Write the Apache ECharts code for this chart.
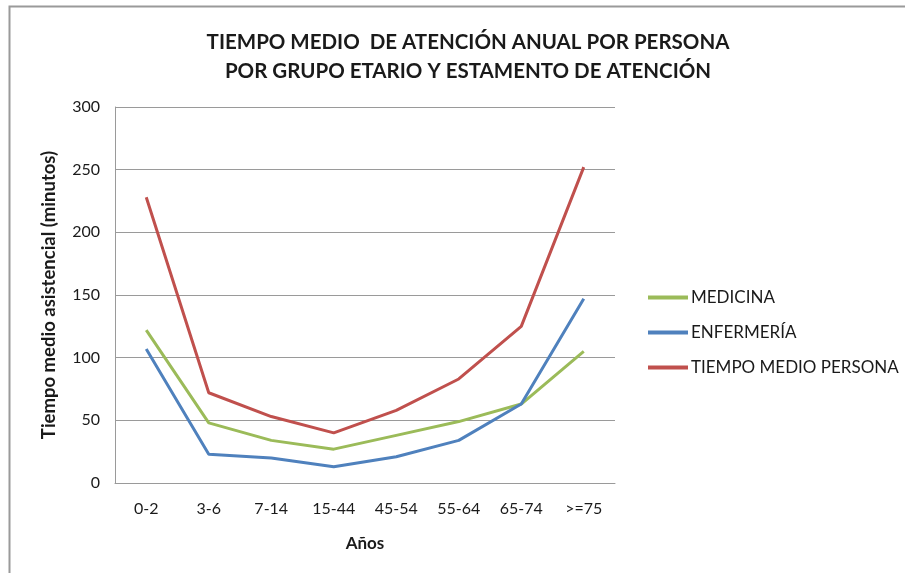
<!DOCTYPE html>
<html>
<head>
<meta charset="utf-8">
<script src="https://cdn.jsdelivr.net/npm/echarts@6/dist/echarts.min.js"></script>
<style>
  html, body { margin: 0; padding: 0; background: #ffffff; }
  #chart { width: 905px; height: 573px; }
</style>
</head>
<body>
<div id="chart"></div>
<script>
// Age groups (x axis)
const categories = ['0-2', '3-6', '7-14', '15-44', '45-54', '55-64', '65-74', '>=75'];

// Mean annual attention time per person, in minutes
const medicina = [122, 48, 34, 27, 38, 49, 63, 105];
const enfermeria = [107, 23, 20, 13, 21, 34, 63, 147];
const tiempoMedioPersona = [228, 72, 53, 40, 58, 83, 125, 252];

// Y axis range
const yMin = 0;
const yMax = 300;
const yStep = 50;

const FONT = 'Lato, "Open Sans", "Liberation Sans", sans-serif';

const chart = echarts.init(document.getElementById('chart'), null, { renderer: 'canvas' });

chart.setOption({
  backgroundColor: '#ffffff',
  animation: false,
  title: {
    text: 'TIEMPO MEDIO  DE ATENCIÓN ANUAL POR PERSONA\nPOR GRUPO ETARIO Y ESTAMENTO DE ATENCIÓN',
    left: 463,
    top: 23,
    textAlign: 'center',
    textStyle: {
      fontFamily: FONT,
      fontWeight: 'bold',
      fontSize: 20.5,
      lineHeight: 29,
      color: '#1a1a1a'
    }
  },
  graphic: [
    {
      type: 'rect',
      shape: { x: 9.5, y: 6.5, width: 1000, height: 700 },
      style: { fill: 'none', stroke: '#9a9a9a', lineWidth: 2 },
      silent: true
    }
  ],
  legend: {
    orient: 'vertical',
    left: 643,
    top: 284,
    itemWidth: 40,
    itemHeight: 4,
    itemGap: 18,
    icon: 'rect',
    textStyle: {
      fontFamily: FONT,
      fontSize: 17,
      color: '#1a1a1a',
      padding: [0, 0, 0, -2]
    },
    data: ['MEDICINA', 'ENFERMERÍA', 'TIEMPO MEDIO PERSONA']
  },
  grid: {
    left: 115,
    right: 290,
    top: 107,
    bottom: 90
  },
  xAxis: {
    type: 'category',
    data: categories,
    boundaryGap: true,
    name: 'Años',
    nameLocation: 'middle',
    nameGap: 52,
    nameTextStyle: {
      fontFamily: FONT,
      fontWeight: 'bold',
      fontSize: 17,
      color: '#1a1a1a'
    },
    axisLine: { show: true, lineStyle: { color: '#9a9a9a', width: 1 } },
    axisTick: { show: false },
    axisLabel: {
      fontFamily: FONT,
      fontSize: 16,
      color: '#1a1a1a',
      margin: 18
    }
  },
  yAxis: {
    type: 'value',
    min: yMin,
    max: yMax,
    interval: yStep,
    name: 'Tiempo medio asistencial (minutos)',
    nameLocation: 'middle',
    nameGap: 56,
    nameTextStyle: {
      fontFamily: FONT,
      fontWeight: 'bold',
      fontSize: 18.5,
      color: '#1a1a1a'
    },
    axisLine: { show: true, lineStyle: { color: '#9a9a9a', width: 1 } },
    axisTick: { show: false },
    splitLine: { show: true, lineStyle: { color: '#9a9a9a', width: 1 } },
    axisLabel: {
      fontFamily: FONT,
      fontSize: 16,
      color: '#1a1a1a',
      margin: 15
    }
  },
  series: [
    {
      name: 'MEDICINA',
      type: 'line',
      data: medicina,
      symbol: 'none',
      color: '#9bbb59',
      lineStyle: { width: 3, color: '#9bbb59' }
    },
    {
      name: 'ENFERMERÍA',
      type: 'line',
      data: enfermeria,
      symbol: 'none',
      color: '#4f81bd',
      lineStyle: { width: 3, color: '#4f81bd' }
    },
    {
      name: 'TIEMPO MEDIO PERSONA',
      type: 'line',
      data: tiempoMedioPersona,
      symbol: 'none',
      color: '#c0504d',
      lineStyle: { width: 3, color: '#c0504d' }
    }
  ]
});
</script>
</body>
</html>
